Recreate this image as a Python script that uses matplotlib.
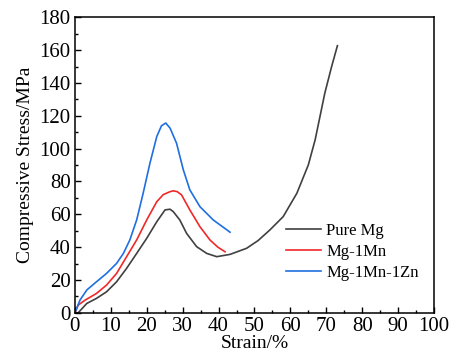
import matplotlib.pyplot as plt
from matplotlib.ticker import MultipleLocator

plt.rcParams['font.family'] = ['Liberation Serif', 'DejaVu Serif']

# values
pure_x = [0, 0.9, 3.3, 6.0, 8.8, 11.6, 14.4, 17.2, 20.0, 22.8, 25.1, 26.5, 27.4, 29.2,
          31.1, 33.9, 36.7, 39.5, 43.2, 47.8, 51.0, 54.3, 58.0, 61.8, 65.0, 66.9,
          69.6, 71.5, 73.1]
pure_y = [0, 0, 5.7, 8.8, 12.8, 18.9, 27.1, 36.2, 45.4, 55.5, 62.7, 63.1, 61.6, 56.6,
          48.4, 40.3, 36.2, 34.2, 35.6, 39.3, 44.0, 50.5, 58.6, 72.8, 90.1, 105.4,
          133.9, 150.1, 162.7]

mn_x = [0, 0.9, 2.8, 6.0, 8.8, 11.6, 14.4, 17.2, 20.0, 22.8, 24.6, 26.5, 27.4, 28.5,
        29.7, 32.0, 34.8, 37.6, 39.8, 41.8]
mn_y = [0, 4.7, 7.7, 11.8, 16.9, 24.0, 34.2, 44.4, 56.6, 67.7, 72.0, 73.8, 74.3, 73.8,
        71.8, 62.7, 52.5, 44.4, 40.0, 37.2]

zn_x = [0, 1.4, 3.3, 6.0, 8.8, 11.6, 13.5, 15.3, 17.2, 19.0, 20.9, 22.8, 24.1, 25.3,
        26.5, 28.3, 30.2, 32.0, 34.8, 38.5, 43.2]
zn_y = [0, 7.7, 13.9, 18.9, 24.0, 30.1, 36.2, 44.4, 56.6, 72.8, 91.2, 107.4, 113.9, 115.6,
        112.5, 103.3, 87.0, 74.9, 64.7, 56.6, 49.1]

labels = ['Pure Mg', 'Mg-1Mn', 'Mg-1Mn-1Zn']
colors = ['#404040', '#f02828', '#1f6fe0']

fig = plt.figure(figsize=(4.54, 3.6), dpi=100)
ax = fig.add_axes([0.165, 0.131, 0.791, 0.821])

ax.plot(pure_x, pure_y, color=colors[0], lw=1.2, label=labels[0])
ax.plot(mn_x, mn_y, color=colors[1], lw=1.2, label=labels[1])
ax.plot(zn_x, zn_y, color=colors[2], lw=1.2, label=labels[2])

ax.set_xlim(0, 100)
ax.set_ylim(0, 180)
ax.xaxis.set_major_locator(MultipleLocator(10))
ax.xaxis.set_minor_locator(MultipleLocator(5))
ax.yaxis.set_major_locator(MultipleLocator(20))
ax.yaxis.set_minor_locator(MultipleLocator(10))
ax.tick_params(which='both', direction='in', labelsize=15, width=1)
ax.tick_params(which='major', length=4, pad=3)
ax.tick_params(which='minor', length=2)
for s in ax.spines.values():
    s.set_linewidth(1.1)

ax.set_xlabel('Strain/%', fontsize=14, labelpad=-1)
ax.set_ylabel('Compressive Stress/MPa', fontsize=14, labelpad=4)

ax.legend(loc='center left', bbox_to_anchor=(0.545, 0.205), frameon=False, fontsize=12,
          handlelength=2.15, handletextpad=0.3, labelspacing=0.3)

fig.savefig('out.png', dpi=100)
